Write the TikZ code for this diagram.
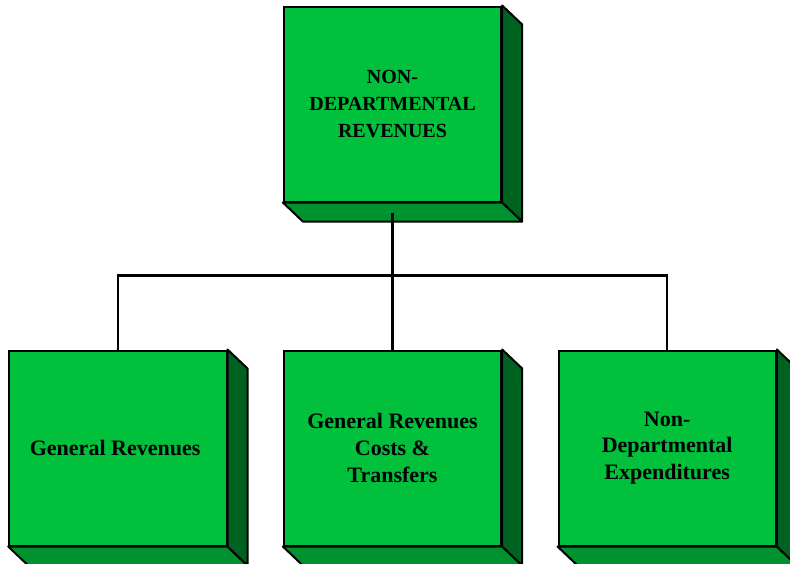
\documentclass[tikz,border=0pt]{standalone}
\usepackage{fontspec}
\setmainfont{Liberation Serif}
\usetikzlibrary{positioning,calc}
\definecolor{boxfront}{RGB}{0,192,60}
\definecolor{boxbottom}{RGB}{0,146,46}
\definecolor{boxside}{RGB}{0,98,32}
\tikzset{
x=0.75pt, y=-0.75pt,
block/.style={rectangle, draw, line width=1.5pt, fill=boxfront,
  minimum width=163pt, minimum height=146.25pt, inner sep=0pt,
  align=center, font=\bfseries\fontsize{16.5}{20}\selectfont},
bottomface/.style={draw, line width=1.5pt, line join=round, fill=boxbottom},
sideface/.style={draw, line width=1.5pt, line join=round, fill=boxside},
link/.style={line width=1.9pt},
}

\begin{document}
\begin{tikzpicture}
    \useasboundingbox (0,0) rectangle (790,564);

    \node [block, font=\bfseries\fontsize{15}{20}\selectfont] (top) at (392.5,104)
    {
        NON-\\DEPARTMENTAL\\REVENUES
    };

    \node [block, below=110.25pt of top] (mid)
    {
        General Revenues\\Costs \&\\Transfers
    };

    \node [block, left=41.5pt of mid] (gen)
    {
        General Revenues
    };

    \node [block, right=41.5pt of mid] (exp)
    {
        Non-\\Departmental\\Expenditures
    };

    % depth of the boxes
    \foreach \n in {top,mid,gen,exp}
    {
        \draw[bottomface] (\n.south west) -- (\n.south east) -- ++(20,19) -- ($(\n.south west)+(20,19)$) -- cycle;
        \draw[sideface] (\n.north east) -- ++(20,19) -- ($(\n.south east)+(20,19)$) -- (\n.south east) -- cycle;
    }

    \coordinate [below=7.5pt of top] (trunk);
    \coordinate [above=55.5pt of mid] (hub);

    \draw[link] (trunk) -- (mid.north);
    \draw[link] (gen.north) |- (hub) -| (exp.north);

\end{tikzpicture}
\end{document}
